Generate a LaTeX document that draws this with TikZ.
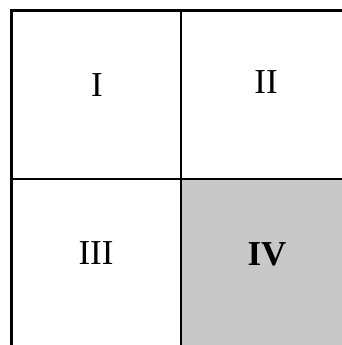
\documentclass[tikz,border=0pt]{standalone}
\usepackage{fontspec}
\setmainfont{Liberation Serif}
\definecolor{quadgray}{RGB}{200,200,200}
\tikzset{
  gridline/.style={line width=2.8pt, black},
  quadtext/.style={font=\fontsize{35}{40}\selectfont, inner sep=0pt}
}
\begin{document}
\begin{tikzpicture}[x=1pt,y=-1pt]
\useasboundingbox (0,0) rectangle (342,345);
\fill[quadgray] (181,179) rectangle (342,345);
\draw[gridline] (11.5,345) -- (11.5,10.5) -- (342,10.5);
\draw[gridline] (181,10.5) -- (181,345);
\draw[gridline] (11.5,179) -- (342,179);
\node[quadtext] (q1) at (97,85) {I};
\node[quadtext] (q2) at (266,82) {II};
\node[quadtext] (q3) at (96,253) {III};
\node[quadtext] (q4) at (267,254) {\textbf{IV}};
\end{tikzpicture}
\end{document}
